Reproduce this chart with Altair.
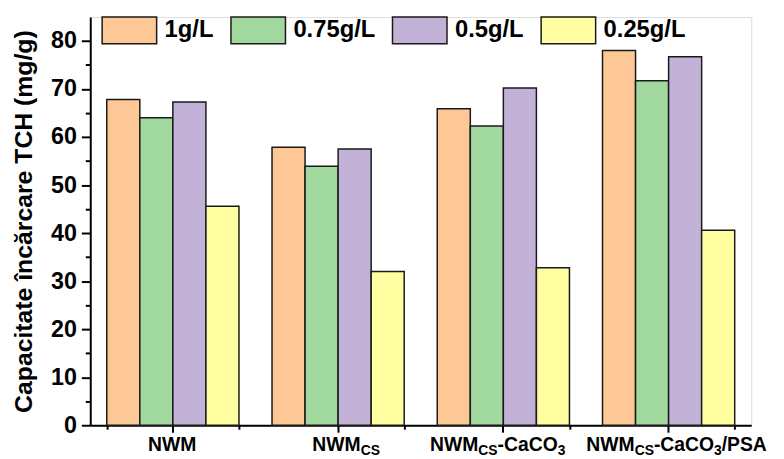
import altair as alt
import pandas as pd

categories = ["NWM", "NWMcs", "NWMcs-CaCO3", "NWMcs-CaCO3/PSA"]
series = ["1g/L", "0.75g/L", "0.5g/L", "0.25g/L"]
vals_1g = [67.8, 57.9, 65.9, 78.0]
vals_075g = [64.0, 53.9, 62.3, 71.7]
vals_05g = [67.3, 57.5, 70.2, 76.7]
vals_025g = [45.6, 32.0, 32.8, 40.6]
colors = ["#FDC796", "#A0D89E", "#C3B2D7", "#FFFEA1"]

# label pieces: (text, is_subscript)
label_parts = [
    [("NWM", 0)],
    [("NWM", 0), ("CS", 1)],
    [("NWM", 0), ("CS", 1), ("-CaCO", 0), ("3", 1)],
    [("NWM", 0), ("CS", 1), ("-CaCO", 0), ("3", 1), ("/PSA", 0)],
]
label_start = [-25, -26, -74, -83]

FONT = "Liberation Sans"
W, H = 667, 412
MAIN_FS, SUB_FS = 19.5, 14

# Liberation Sans Bold advance widths (per 1000 em)
adv = {"N": 722, "W": 944, "M": 833, "C": 722, "S": 667, "-": 333, "a": 556,
       "O": 778, "3": 556, "/": 278, "P": 667, "A": 722}


def text_width(t, fs):
    return sum(adv.get(ch, 556) for ch in t) * fs / 1000.0


rows = []
for s, vals in zip(series, [vals_1g, vals_075g, vals_05g, vals_025g]):
    for c, v in zip(categories, vals):
        rows.append({"cat": c, "conc": s, "val": v})
df = pd.DataFrame(rows)

bars = alt.Chart(df).mark_bar(stroke="#1a1a1a", strokeWidth=1.5).encode(
    x=alt.X("cat:N", sort=categories, title=None,
            scale=alt.Scale(paddingInner=0.2, paddingOuter=0.1),
            axis=alt.Axis(labels=False, orient="bottom", tickSize=7, tickWidth=2,
                          tickColor="black", domainColor="black", domainWidth=2)),
    xOffset=alt.XOffset("conc:N", sort=series,
                        scale=alt.Scale(paddingInner=0, paddingOuter=0)),
    y=alt.Y("val:Q", title="Capacitate încărcare TCH (mg/g)",
            scale=alt.Scale(domain=[0, 85], nice=False),
            axis=alt.Axis(values=list(range(0, 85, 5)),
                          labelExpr="datum.value % 10 == 0 ? datum.label : ''",
                          tickSize={"condition": {"test": "datum.value % 10 == 0", "value": 9}, "value": 5},
                          tickWidth=2, tickColor="black", domainColor="black", domainWidth=2,
                          labelFontSize=23.5, labelFont=FONT, labelFontWeight="bold",
                          labelColor="black", labelPadding=5,
                          titleFontSize=25, titleFont=FONT, titleFontWeight="bold",
                          titleColor="black", titlePadding=14, grid=False)),
    color=alt.Color("conc:N", sort=series,
                    scale=alt.Scale(domain=series, range=colors),
                    legend=alt.Legend(title=None, orient="none", legendX=11, legendY=-15,
                                      direction="horizontal",
                                      symbolType="M-1,-0.49L1,-0.49L1,0.49L-1,0.49Z",
                                      symbolSize=3025, symbolStrokeColor="#1a1a1a",
                                      symbolStrokeWidth=1.5, symbolOpacity=1,
                                      labelFontSize=24, labelFont=FONT, labelFontWeight="bold",
                                      labelColor="black", labelOffset=7, columnPadding=14,
                                      padding=0)),
)

text_layers = []
first = True
for ci, cat in enumerate(categories):
    off = label_start[ci]
    for t, sub in label_parts[ci]:
        fs = SUB_FS if sub else MAIN_FS
        if first:
            xaxis = alt.Axis(labels=False, domain=False, tickBand="extent", orient="bottom",
                             tickSize=4, tickWidth=2, tickColor="black", title=None)
            first = False
        else:
            xaxis = None
        layer = alt.Chart(pd.DataFrame({"cat": [cat], "t": [t]})).mark_text(
            align="left", baseline="alphabetic", dx=off, font=FONT, fontSize=fs,
            fontWeight="bold", color="black"
        ).encode(
            x=alt.X("cat:N", sort=categories, axis=xaxis, title=None),
            y=alt.value(H + (30 if sub else 26)),
            text="t:N",
        )
        text_layers.append(layer)
        off += text_width(t, fs)

chart = alt.layer(bars, *text_layers).resolve_axis(x="independent").properties(
    width=W, height=H,
    autosize=alt.AutoSizeParams(type="none"),
    padding={"left": 83, "top": 7, "right": 25, "bottom": 32},
).configure_view(stroke=None).configure(font=FONT)

chart.save("out.html", embed_options={"renderer": "svg", "actions": False})
